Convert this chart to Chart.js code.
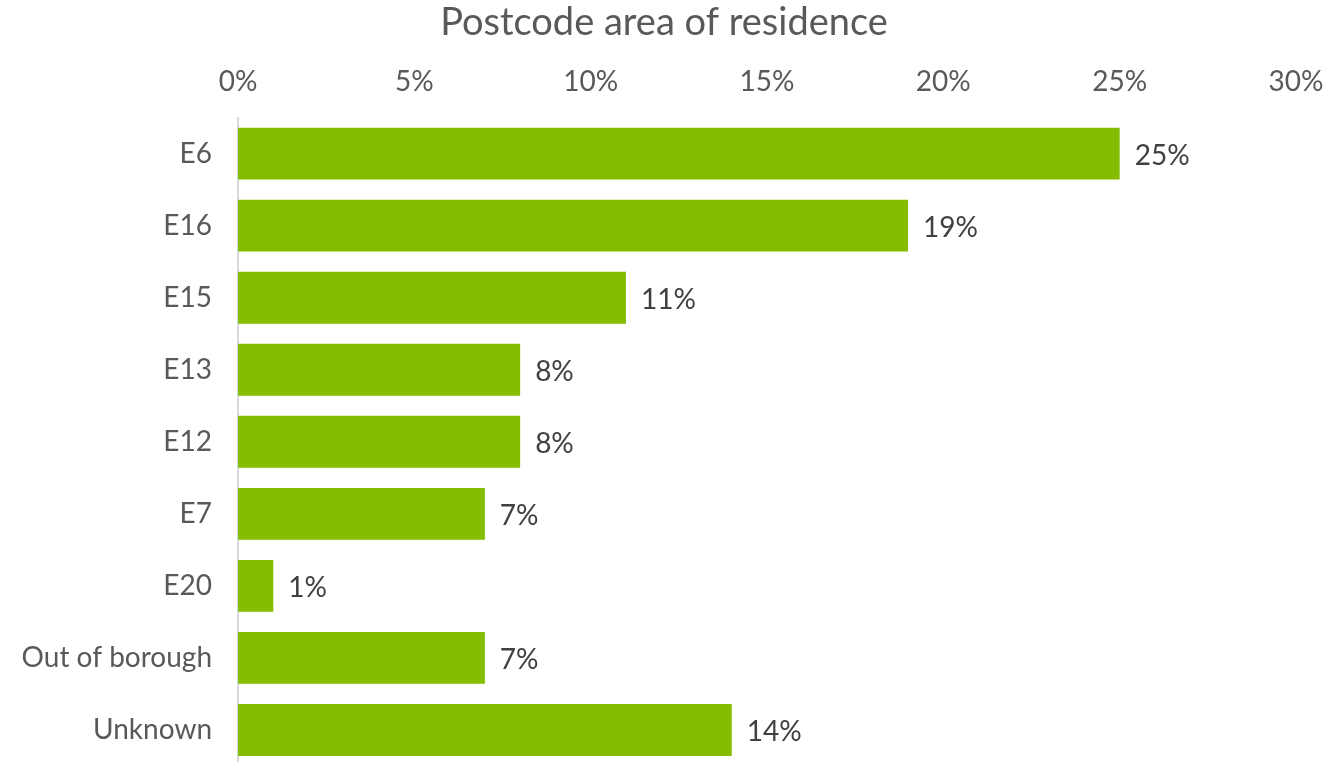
<!DOCTYPE html>
<html>
<head>
<meta charset="utf-8">
<title>Postcode area of residence</title>
<script src="https://cdn.jsdelivr.net/npm/chart.js@4"></script>
<style>
    html, body { margin: 0; padding: 0; background: #ffffff; overflow: hidden; }
    canvas { display: block; }
</style>
</head>
<body>
<canvas id="postcodeChart" width="1328" height="766"></canvas>
<script>
// Share of residents by postcode area (percent)
const areas = ['E6', 'E16', 'E15', 'E13', 'E12', 'E7', 'E20', 'Out of borough', 'Unknown'];
const shares = [25, 19, 11, 8, 8, 7, 1, 7, 14];
const tickValues = [0, 5, 10, 15, 20, 25, 30];

const FONT = 'Lato, "Open Sans", sans-serif';
const GREY = '#595959';

// Writes the percentage just past the end of every bar
const barValueLabels = {
    id: 'barValueLabels',
    afterDatasetsDraw(chart) {
        const ctx = chart.ctx;
        const meta = chart.getDatasetMeta(0);
        ctx.save();
        ctx.font = '28px ' + FONT;
        ctx.fillStyle = '#404040';
        ctx.textAlign = 'left';
        ctx.textBaseline = 'middle';
        meta.data.forEach((bar, i) => {
            ctx.fillText(shares[i] + '%', bar.x + 15, bar.y + 2);
        });
        ctx.restore();
    }
};

const ctx = document.getElementById('postcodeChart').getContext('2d');
new Chart(ctx, {
    type: 'bar',
    data: {
        labels: areas,
        datasets: [{
            data: shares,
            backgroundColor: '#84bd00',
            borderWidth: 0,
            barPercentage: 0.72,
            categoryPercentage: 1
        }]
    },
    options: {
        indexAxis: 'y',
        responsive: false,
        animation: false,
        plugins: {
            legend: { display: false },
            tooltip: { enabled: false },
            title: {
                display: true,
                text: 'Postcode area of residence',
                color: GREY,
                font: { family: FONT, size: 38, weight: 'normal' },
                padding: { top: 0, bottom: 0 }
            }
        },
        scales: {
            x: {
                position: 'top',
                min: 0,
                max: 30,
                afterBuildTicks(scale) {
                    scale.ticks = tickValues.map(v => ({ value: v }));
                },
                // fixed box so the plot starts right under the tick row
                afterFit(scale) {
                    scale.height = 72;
                    scale.paddingLeft = 0;
                    scale.paddingRight = 32;
                },
                ticks: {
                    color: GREY,
                    font: { family: FONT, size: 28 },
                    padding: 19,
                    callback: v => v + '%'
                },
                grid: { display: false, drawTicks: false },
                border: { display: false }
            },
            y: {
                afterFit(scale) {
                    scale.width = 238;
                    scale.paddingTop = 0;
                    scale.paddingBottom = 0;
                },
                ticks: {
                    color: GREY,
                    font: { family: FONT, size: 28 },
                    padding: 26
                },
                grid: { display: false, drawTicks: false },
                border: { display: true, color: '#d9d9d9', width: 2 }
            }
        }
    },
    plugins: [barValueLabels]
});
</script>
</body>
</html>
